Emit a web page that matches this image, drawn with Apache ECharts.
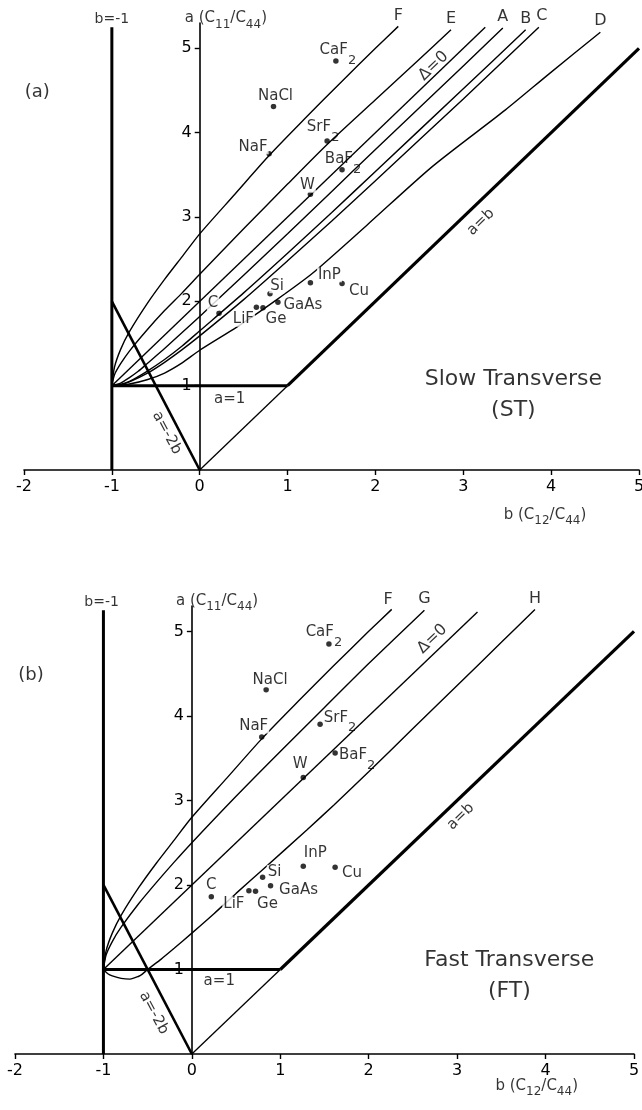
<!DOCTYPE html>
<html>
<head>
<meta charset="utf-8">
<script src="https://cdn.jsdelivr.net/npm/echarts@6.0.0/dist/echarts.min.js"></script>
<style>
  html, body { margin: 0; padding: 0; background: #fff; }
  #chart { width: 642px; height: 1110px; }
</style>
</head>
<body>
<div id="chart"></div>
<script>
const FONT = '"DejaVu Sans", sans-serif';
const INK = '#000000';

// axis ticks
const bTicks = [-2, -1, 0, 1, 2, 3, 4, 5];
const aTicks = [1, 2, 3, 4, 5];

// materials: b = C12/C44, a = C11/C44
const matNames = ['CaF2', 'NaCl', 'NaF', 'SrF2', 'BaF2', 'W', 'C', 'LiF', 'Ge', 'Si', 'GaAs', 'InP', 'Cu'];
const matB = [1.55, 0.84, 0.79, 1.45, 1.62, 1.26, 0.22, 0.645, 0.72, 0.80, 0.89, 1.26, 1.62];
const matA = [4.85, 4.31, 3.75, 3.90, 3.56, 3.27, 1.86, 1.93, 1.925, 2.09, 1.99, 2.22, 2.21];

// boundary lines (both panels)
const wallB = [-1, -1],   wallA = [0, 5.25];   // b = -1
const aOneB = [-1, 1],    aOneA = [1, 1];      // a = 1
const diagThinB = [0, 1], diagThinA = [0, 1];  // a = b below a = 1
const diagB = [1, 5],     diagA = [1, 5];      // a = b
const m2bB = [-1, 0],     m2bA = [2, 0];       // a = -2b

// slow transverse curves
const curveF_b = [-1, -0.97, -0.9, -0.8, -0.6, -0.4, -0.2, 0, 0.4, 0.8, 1.2, 1.6, 2.0, 2.26];
const curveF_a = [1, 1.22, 1.43, 1.64, 1.97, 2.26, 2.53, 2.8, 3.27, 3.74, 4.17, 4.59, 5.0, 5.26];
const stE_b = [-1, -0.97, -0.9, -0.8, -0.6, -0.4, -0.2, 0, 0.5, 1.0, 1.45, 2.0, 2.5, 2.86];
const stE_a = [1, 1.13, 1.26, 1.41, 1.66, 1.89, 2.1, 2.32, 2.86, 3.39, 3.86, 4.39, 4.87, 5.22];
const stIso_b = [-1, 3.25], stIso_a = [1, 5.25];
const stA_b = [-1, -0.9, -0.8, -0.7, -0.6, -0.4, -0.2, 0, 0.5, 1, 1.5, 2, 3, 3.45];
const stA_a = [1, 1.03, 1.095, 1.17, 1.26, 1.44, 1.63, 1.82, 2.31, 2.80, 3.30, 3.80, 4.79, 5.24];
const stB_b = [-1, -0.9, -0.8, -0.6, -0.4, -0.2, 0, 0.5, 1, 1.5, 2, 3, 3.71];
const stB_a = [1, 1.015, 1.05, 1.17, 1.31, 1.47, 1.65, 2.10, 2.57, 3.05, 3.54, 4.52, 5.22];
const stC_b = [-1, -0.9, -0.8, -0.6, -0.4, -0.2, 0, 0.5, 1, 1.5, 2, 3, 3.86];
const stC_a = [1, 1.012, 1.044, 1.145, 1.277, 1.427, 1.59, 2.02, 2.48, 2.95, 3.43, 4.40, 5.25];
const stD_b = [-1, -0.8, -0.6, -0.4, -0.2, 0, 0.43, 0.85, 1.28, 1.9, 2.65, 3.48, 3.98, 4.56];
const stD_a = [1, 1.02, 1.07, 1.15, 1.27, 1.42, 1.70, 2.0, 2.33, 2.9, 3.6, 4.27, 4.70, 5.19];

// fast transverse curves (F is shared)
const ftG_b = [-1, -0.97, -0.9, -0.8, -0.6, -0.4, -0.2, 0, 0.5, 1, 1.5, 2, 2.63];
const ftG_a = [1, 1.17, 1.33, 1.5, 1.78, 2.03, 2.27, 2.5, 3.05, 3.58, 4.10, 4.62, 5.25];
const ftIso_b = [-1, 3.23], ftIso_a = [1, 5.23];
const ftH_b = [-1, -0.95, -0.9, -0.8, -0.7, -0.6, -0.56, -0.5, -0.35, -0.2, 0, 0.25, 0.5, 0.8, 1.3, 1.61, 2.0, 2.5, 3.0, 3.5, 3.88];
const ftH_a = [1, 0.95, 0.925, 0.895, 0.886, 0.92, 0.945, 1.0, 1.12, 1.25, 1.43, 1.66, 1.9, 2.18, 2.65, 2.95, 3.34, 3.85, 4.36, 4.87, 5.26];

function zip(bs, as) { return bs.map((b, i) => [b, as[i]]); }
function last(arr) { return arr[arr.length - 1]; }

function curve(p, bs, as, width, smooth) {
  return {
    type: 'line', xAxisIndex: p, yAxisIndex: p, data: zip(bs, as),
    symbol: 'none', smooth: smooth ? 0.25 : false,
    lineStyle: { color: INK, width: width }, silent: true, animation: false, z: 2
  };
}

const matRich = {
  n: { fontSize: 15, lineHeight: 18, padding: [0, 0, 9, 0], fontFamily: FONT, color: INK },
  s: { fontSize: 13, lineHeight: 16, padding: [11, 0, 0, 0], fontFamily: FONT, color: INK }
};
const nameRich = {
  n: { fontSize: 15, lineHeight: 19, padding: [0, 0, 4, 0], fontFamily: FONT, color: INK },
  s: { fontSize: 12, lineHeight: 15, padding: [8, 0, 0, 0], fontFamily: FONT, color: INK }
};
function hasSub(n) { return /2$/.test(n); }
function matText(n) { return hasSub(n) ? '{n|' + n.slice(0, -1) + '}{s|2}' : n; }

// label offsets (px) of each material name from its dot
const offST = { CaF2: [2, -6], NaCl: [2, -10], NaF: [-16, -7], SrF2: [-4, -9], BaF2: [1, -6], W: [-3, -9],
  C: [-6, -10], LiF: [-13, 12], Ge: [13, 11], Si: [7, -8], GaAs: [25, 3], InP: [19, -8], Cu: [17, 7] };
const offFT = { CaF2: [-5, -7], NaCl: [4, -10], NaF: [-8, -11], SrF2: [20, -2], BaF2: [22, 7], W: [-3, -13],
  C: [0, -12], LiF: [-15, 13], Ge: [12, 13], Si: [12, -5], GaAs: [28, 4], InP: [12, -13], Cu: [17, 6] };

function materials(p, offs) {
  return {
    type: 'scatter', xAxisIndex: p, yAxisIndex: p, symbolSize: 5.5, itemStyle: { color: INK },
    silent: true, animation: false, z: 5,
    data: matNames.map((n, i) => ({
      value: [matB[i], matA[i]],
      label: { show: true, position: 'inside', offset: offs[n], formatter: matText(n),
        fontSize: 15, fontFamily: FONT, color: INK, rich: matRich, textBorderWidth: 0,
        // plain names get a white box so the curves break behind them, as in the print
        backgroundColor: hasSub(n) ? 'transparent' : '#fff', padding: [0, 1] }
    }))
  };
}

function notes(p, list) {
  return {
    type: 'scatter', xAxisIndex: p, yAxisIndex: p, symbolSize: 0, itemStyle: { color: 'transparent' },
    silent: true, animation: false, clip: false, z: 6,
    data: list.map(n => ({
      value: n.at,
      label: Object.assign({ show: true, position: 'inside', formatter: n.text, fontSize: 15,
        fontFamily: FONT, color: INK, textBorderWidth: 0, rotate: n.rotate || 0, rich: nameRich }, n.style || {})
    }))
  };
}

const yName = '{n|a (C}{s|11}{n|/C}{s|44}{n|)}';
const xName = '{n|b (C}{s|12}{n|/C}{s|44}{n|)}';
const bigText = { fontSize: 22, lineHeight: 31, align: 'center' };
const atTop = (d) => ({ position: 'top', distance: d, fontSize: 16 });

const notesST = [
  { at: [-1.85, 4.48], text: '(a)', style: { fontSize: 18 } },
  { at: [3.57, 0.895], text: 'Slow Transverse\n(ST)', style: bigText },
  { at: [2.66, 4.79], text: 'Δ=0', rotate: 44, style: { fontSize: 16 } },
  { at: [3.20, 2.94], text: 'a=b', rotate: 44 },
  { at: [-0.375, 0.44], text: 'a=-2b', rotate: -62 },
  { at: [0.34, 0.84], text: 'a=1' },
  { at: [-1.0, 5.34], text: 'b=-1', style: { fontSize: 14 } },
  { at: [-0.17, 5.33], text: yName, style: { align: 'left' } },
  { at: [3.93, -0.56], text: xName },
  { at: [last(curveF_b), last(curveF_a)], text: 'F', style: atTop(3) },
  { at: [last(stE_b), last(stE_a)], text: 'E', style: atTop(3) },
  { at: [last(stA_b), last(stA_a)], text: 'A', style: atTop(3) },
  { at: [last(stB_b), last(stB_a)], text: 'B', style: atTop(3) },
  { at: [last(stC_b), last(stC_a)], text: 'C', style: Object.assign(atTop(3), { offset: [3, 0] }) },
  { at: [last(stD_b), last(stD_a)], text: 'D', style: atTop(3) }
];
const notesFT = [
  { at: [-1.82, 4.48], text: '(b)', style: { fontSize: 18 } },
  { at: [3.59, 0.93], text: 'Fast Transverse\n(FT)', style: bigText },
  { at: [2.72, 4.91], text: 'Δ=0', rotate: 44, style: { fontSize: 16 } },
  { at: [3.04, 2.81], text: 'a=b', rotate: 44 },
  { at: [-0.43, 0.485], text: 'a=-2b', rotate: -62 },
  { at: [0.31, 0.86], text: 'a=1' },
  { at: [-1.02, 5.34], text: 'b=-1', style: { fontSize: 14 } },
  { at: [-0.18, 5.34], text: yName, style: { align: 'left' } },
  { at: [3.90, -0.40], text: xName },
  { at: [last(curveF_b) - 0.04, last(curveF_a) - 0.02], text: 'F', style: atTop(3) },
  { at: [last(ftG_b), last(ftG_a)], text: 'G', style: atTop(3) },
  { at: [last(ftH_b), last(ftH_a)], text: 'H', style: atTop(3) }
];

// grid boxes; the a-axis sits at b = 0
const grids = [
  { left: 24, top: 23, width: 615, height: 447 },
  { left: 15, top: 606, width: 619, height: 448 }
];
const bMin = -2, bMax = 5;

function xAxis(g) {
  return {
    gridIndex: g, type: 'value', min: bMin, max: bMax, interval: 1,
    axisLine: { lineStyle: { color: INK, width: 1.6 } },
    axisTick: { customValues: bTicks, length: 5, lineStyle: { color: INK, width: 1.4 } },
    axisLabel: { customValues: bTicks, fontSize: 16, color: INK, fontFamily: FONT, margin: 9 },
    splitLine: { show: false }
  };
}
function yAxis(g) {
  const toZero = grids[g].width * (0 - bMin) / (bMax - bMin);
  return {
    gridIndex: g, type: 'value', min: 0, max: 5.3, interval: 1, position: 'left', offset: -toZero,
    axisLine: { onZero: false, lineStyle: { color: INK, width: 1.6 } },
    axisTick: { customValues: aTicks, length: 5, lineStyle: { color: INK, width: 1.4 } },
    axisLabel: { customValues: aTicks, fontSize: 16, color: INK, fontFamily: FONT, margin: 8 },
    splitLine: { show: false }
  };
}

function frame(p) {
  return [
    curve(p, wallB, wallA, 3, false),
    curve(p, aOneB, aOneA, 3, false),
    curve(p, diagThinB, diagThinA, 1.3, false),
    curve(p, diagB, diagA, 3.2, false),
    curve(p, m2bB, m2bA, 2.6, false)
  ];
}

const series = [].concat(
  frame(0),
  [
    curve(0, curveF_b, curveF_a, 1.4, true),
    curve(0, stE_b, stE_a, 1.4, true),
    curve(0, stIso_b, stIso_a, 1.4, false),
    curve(0, stA_b, stA_a, 1.4, true),
    curve(0, stB_b, stB_a, 1.4, true),
    curve(0, stC_b, stC_a, 1.4, true),
    curve(0, stD_b, stD_a, 1.4, true),
    materials(0, offST),
    notes(0, notesST)
  ],
  frame(1),
  [
    curve(1, curveF_b, curveF_a, 1.4, true),
    curve(1, ftG_b, ftG_a, 1.4, true),
    curve(1, ftIso_b, ftIso_a, 1.4, false),
    curve(1, ftH_b, ftH_a, 1.4, true),
    materials(1, offFT),
    notes(1, notesFT)
  ]
);

const chart = echarts.init(document.getElementById('chart'));
chart.setOption({
  animation: false,
  backgroundColor: '#fff',
  textStyle: { fontFamily: FONT },
  grid: grids.map(g => Object.assign({ containLabel: false, outerBoundsMode: 'none' }, g)),
  xAxis: [xAxis(0), xAxis(1)],
  yAxis: [yAxis(0), yAxis(1)],
  series: series
});
</script>
</body>
</html>
